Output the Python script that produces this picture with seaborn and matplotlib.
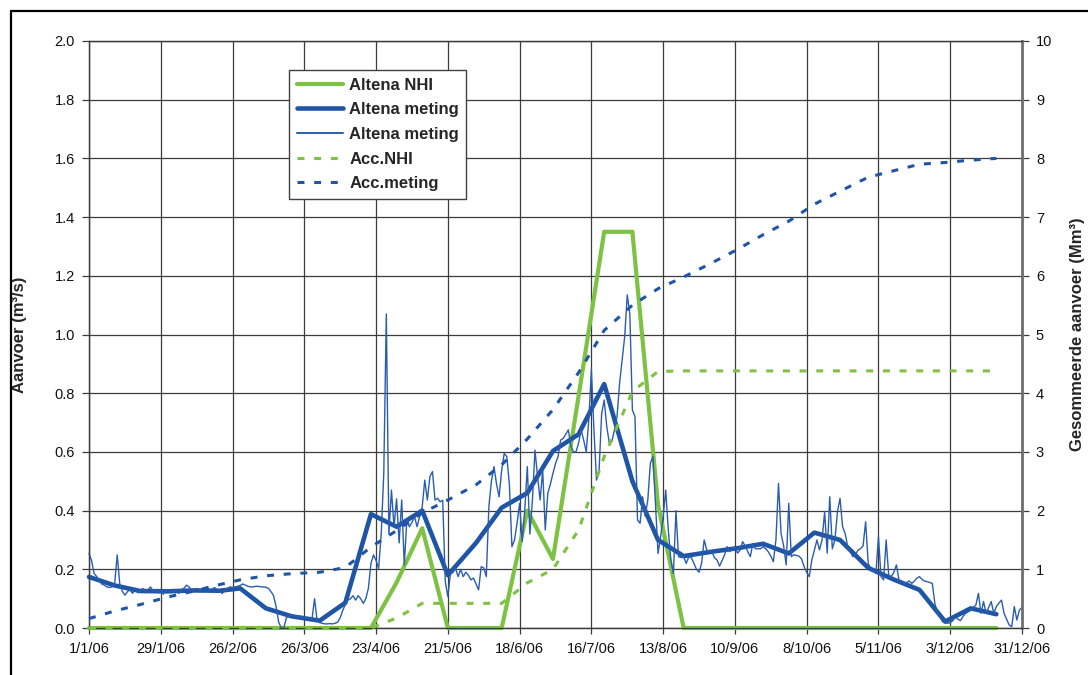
import matplotlib
matplotlib.use("Agg")
import matplotlib.pyplot as plt
from matplotlib.lines import Line2D
import pandas as pd
import seaborn as sns

# Daily measured discharge at Altena (m3/s), 1 Jan - 31 Dec 2006
daily_flow = [
    0.254, 0.23, 0.186, 0.175, 0.16, 0.15, 0.146, 0.14, 0.138, 0.14,
    0.15, 0.249, 0.15, 0.125, 0.112, 0.124, 0.13, 0.118, 0.135, 0.12,
    0.128, 0.135, 0.12, 0.13, 0.14, 0.125, 0.128, 0.12, 0.132, 0.115,
    0.13, 0.125, 0.128, 0.122, 0.13, 0.118, 0.13, 0.135, 0.146, 0.14,
    0.13, 0.128, 0.135, 0.126, 0.13, 0.135, 0.14, 0.128, 0.132, 0.138,
    0.13, 0.125, 0.118, 0.13, 0.135, 0.14, 0.138, 0.14, 0.142, 0.145,
    0.15, 0.146, 0.142, 0.14, 0.14, 0.142, 0.142, 0.14, 0.14, 0.139,
    0.135, 0.124, 0.11, 0.073, 0.02, 0.0, 0.0, 0.035, 0.042, 0.044,
    0.042, 0.04, 0.04, 0.038, 0.036, 0.035, 0.034, 0.03, 0.10, 0.025,
    0.018, 0.016, 0.014, 0.014, 0.015, 0.014, 0.016, 0.02, 0.035, 0.06,
    0.08, 0.095, 0.10, 0.11, 0.095, 0.11, 0.10, 0.084, 0.10, 0.135,
    0.22, 0.249, 0.23, 0.203, 0.32, 0.527, 1.07, 0.32, 0.47, 0.345,
    0.44, 0.29, 0.436, 0.215, 0.368, 0.345, 0.36, 0.38, 0.345, 0.38,
    0.413, 0.504, 0.436, 0.516, 0.533, 0.436, 0.442, 0.43, 0.435, 0.158,
    0.107, 0.186, 0.19, 0.203, 0.175, 0.2, 0.175, 0.19, 0.18, 0.164,
    0.17, 0.15, 0.13, 0.209, 0.205, 0.175, 0.413, 0.50, 0.55, 0.49,
    0.447, 0.538, 0.595, 0.584, 0.49, 0.277, 0.30, 0.357, 0.425, 0.294,
    0.40, 0.55, 0.32, 0.436, 0.606, 0.516, 0.436, 0.538, 0.334, 0.459,
    0.49, 0.527, 0.56, 0.584, 0.64, 0.646, 0.66, 0.675, 0.62, 0.60,
    0.60, 0.63, 0.675, 0.64, 0.60, 0.71, 0.88, 0.675, 0.504, 0.538,
    0.73, 0.777, 0.686, 0.63, 0.635, 0.675, 0.72, 0.834, 0.913, 0.993,
    1.135, 1.07, 0.743, 0.72, 0.368, 0.357, 0.447, 0.38, 0.436, 0.561,
    0.584, 0.425, 0.254, 0.31, 0.38, 0.47, 0.334, 0.232, 0.186, 0.40,
    0.243, 0.24, 0.243, 0.22, 0.243, 0.24, 0.22, 0.2, 0.19, 0.22,
    0.30, 0.266, 0.26, 0.26, 0.24, 0.232, 0.211, 0.23, 0.25, 0.277,
    0.26, 0.27, 0.277, 0.255, 0.265, 0.294, 0.28, 0.26, 0.243, 0.288,
    0.27, 0.27, 0.27, 0.277, 0.27, 0.26, 0.245, 0.226, 0.30, 0.493,
    0.322, 0.28, 0.215, 0.425, 0.243, 0.25, 0.247, 0.245, 0.235, 0.209,
    0.19, 0.175, 0.232, 0.265, 0.30, 0.266, 0.30, 0.396, 0.255, 0.447,
    0.27, 0.30, 0.396, 0.442, 0.345, 0.322, 0.277, 0.26, 0.243, 0.25,
    0.265, 0.27, 0.28, 0.362, 0.22, 0.203, 0.195, 0.186, 0.311, 0.175,
    0.164, 0.30, 0.18, 0.175, 0.19, 0.215, 0.164, 0.158, 0.152, 0.155,
    0.16, 0.152, 0.16, 0.17, 0.175, 0.165, 0.16, 0.158, 0.155, 0.152,
    0.084, 0.05, 0.039, 0.022, 0.018, 0.016, 0.018, 0.025, 0.039, 0.03,
    0.025, 0.04, 0.05, 0.055, 0.061, 0.07, 0.078, 0.118, 0.05, 0.09,
    0.05, 0.07, 0.09, 0.05, 0.073, 0.085, 0.095, 0.05, 0.03, 0.01,
    0.005, 0.073, 0.027, 0.061, 0.07,
]

# Ten-day (dekade) means of the measurement, m3/s
dekade_flow = [
    0.174, 0.145, 0.126, 0.125, 0.128, 0.127, 0.135, 0.067, 0.04, 0.025,
    0.086, 0.388, 0.345, 0.40, 0.18, 0.29, 0.41, 0.46, 0.603, 0.66,
    0.831, 0.50, 0.30, 0.245, 0.26, 0.272, 0.287, 0.254, 0.325, 0.30,
    0.205, 0.165, 0.13, 0.022, 0.067, 0.047,
]

# NHI model supply per dekade, m3/s
nhi_flow = [
    0, 0, 0, 0, 0, 0, 0, 0, 0, 0,
    0, 0, 0.155, 0.34, 0, 0, 0, 0.40, 0.235, 0.79,
    1.35, 1.35, 0.42, 0, 0, 0, 0, 0, 0, 0,
    0, 0, 0, 0, 0, 0,
]

# Accumulated supply, Mm3
acc_nhi = [
    0, 0, 0, 0, 0, 0, 0, 0, 0, 0,
    0, 0, 0.17, 0.42, 0.42, 0.42, 0.42, 0.77, 1.0, 1.67,
    2.92, 4.03, 4.37, 4.38, 4.38, 4.38, 4.38, 4.38, 4.38, 4.38,
    4.38, 4.38, 4.38, 4.38, 4.38, 4.38,
]
acc_meting = [
    0.16, 0.29, 0.40, 0.53, 0.63, 0.74, 0.82, 0.89, 0.925, 0.95,
    1.03, 1.38, 1.66, 1.96, 2.18, 2.44, 2.78, 3.22, 3.72, 4.35,
    5.07, 5.5, 5.78, 5.98, 6.22, 6.45, 6.70, 6.93, 7.22, 7.44,
    7.68, 7.79, 7.90, 7.93, 7.97, 8.0,
]

tick_labels = ["1/1/06", "29/1/06", "26/2/06", "26/3/06", "23/4/06", "21/5/06",
               "18/6/06", "16/7/06", "13/8/06", "10/9/06", "8/10/06", "5/11/06",
               "3/12/06", "31/12/06"]
left_ticks = [0.0, 0.2, 0.4, 0.6, 0.8, 1.0, 1.2, 1.4, 1.6, 1.8, 2.0]
right_ticks = [0, 1, 2, 3, 4, 5, 6, 7, 8, 9, 10]

sns.set_style("ticks")
plt.rcParams["font.family"] = ["Liberation Sans", "DejaVu Sans"]
plt.rcParams["lines.scale_dashes"] = False

green = "#7DC242"
blue = "#1F55A6"
thin_blue = "#2A5DAE"
grid_c = "#3C3C3C"

days = pd.date_range("2006-01-01", periods=len(daily_flow), freq="D")
dekades = pd.to_datetime([f"2006-{m:02d}-{d:02d}" for m in range(1, 13) for d in (1, 11, 21)])
ticks = pd.date_range("2006-01-01", periods=len(tick_labels), freq="28D")

fig = plt.figure(figsize=(10.88, 6.75), dpi=100)
ax = fig.add_axes([89 / 1088, 47 / 675, 933 / 1088, 587 / 675])
ax2 = ax.twinx()

sns.lineplot(x=dekades, y=nhi_flow, ax=ax, color=green, linewidth=3.0,
             clip_on=False, zorder=3)
sns.lineplot(x=dekades, y=dekade_flow, ax=ax, color=blue, linewidth=3.3,
             clip_on=False, zorder=4)
sns.lineplot(x=days, y=daily_flow, ax=ax, color=thin_blue, linewidth=1.0,
             clip_on=False, zorder=5)
sns.lineplot(x=dekades, y=acc_nhi, ax=ax2, color=green, linewidth=2.2,
             linestyle=(0, (5, 7)), clip_on=False, zorder=3)
sns.lineplot(x=dekades, y=acc_meting, ax=ax2, color=blue, linewidth=2.2,
             linestyle=(0, (5, 7)), clip_on=False, zorder=4)

ax.set_xlim(days[0], days[-1])
ax.set_ylim(0, 2.0)
ax2.set_ylim(0, 10)
ax.set_xticks(ticks)
ax.set_xticklabels(tick_labels)
ax.set_yticks(left_ticks)
ax.set_yticklabels([f"{v:.1f}" for v in left_ticks])
ax2.set_yticks(right_ticks)
ax2.set_yticklabels([str(v) for v in right_ticks])

ax.grid(True, color=grid_c, linewidth=0.9)
ax.set_axisbelow(True)
ax2.grid(False)

for a in (ax, ax2):
    for s in a.spines.values():
        s.set_color(grid_c)
        s.set_linewidth(0.9)
ax2.spines["right"].set_color("#707070")
ax2.spines["right"].set_linewidth(2.0)

ax.tick_params(axis="y", direction="out", length=5, width=0.9, color=grid_c,
               labelsize=10.5, pad=5, labelcolor="#111111")
ax.tick_params(axis="x", direction="out", length=4, width=0.9, color=grid_c,
               labelsize=10.5, pad=6, labelcolor="#111111")
ax2.tick_params(axis="y", direction="out", length=5, width=0.9, color=grid_c,
                labelsize=10.5, pad=5, labelcolor="#111111")

ax.set_xlabel("")
ax.set_ylabel("Aanvoer (m³/s)", fontsize=12, fontweight="bold", labelpad=20)
ax2.set_ylabel("Gesommeerde aanvoer (Mm³)", fontsize=12, fontweight="bold",
               labelpad=13)

handles = [
    Line2D([], [], color=green, linewidth=3.0),
    Line2D([], [], color=blue, linewidth=3.3),
    Line2D([], [], color=thin_blue, linewidth=1.4),
    Line2D([], [], color=green, linewidth=2.2, linestyle=(0, (5, 7))),
    Line2D([], [], color=blue, linewidth=2.2, linestyle=(0, (5, 7))),
]
labels = ["Altena NHI", "Altena meting", "Altena meting", "Acc.NHI", "Acc.meting"]
leg = ax2.legend(handles, labels, loc="upper left",
                 bbox_to_anchor=((289 - 89) / 933, (628 - 70) / 587),
                 borderaxespad=0, frameon=True, fancybox=False, framealpha=1,
                 edgecolor="#404040", prop={"weight": "bold", "size": 12},
                 handlelength=2.8, handletextpad=0.36, labelspacing=0.58,
                 borderpad=0.45)
leg.get_frame().set_linewidth(1.0)
leg.set_zorder(10)

# outer chart frame
fig.add_artist(Line2D([10.5 / 1088, 1.0], [1 - 10.5 / 675] * 2,
                      transform=fig.transFigure, color="black", linewidth=1.6))
fig.add_artist(Line2D([10.5 / 1088] * 2, [0.0, 1 - 10.5 / 675],
                      transform=fig.transFigure, color="black", linewidth=1.6))

fig.savefig("out.png", dpi=100)
